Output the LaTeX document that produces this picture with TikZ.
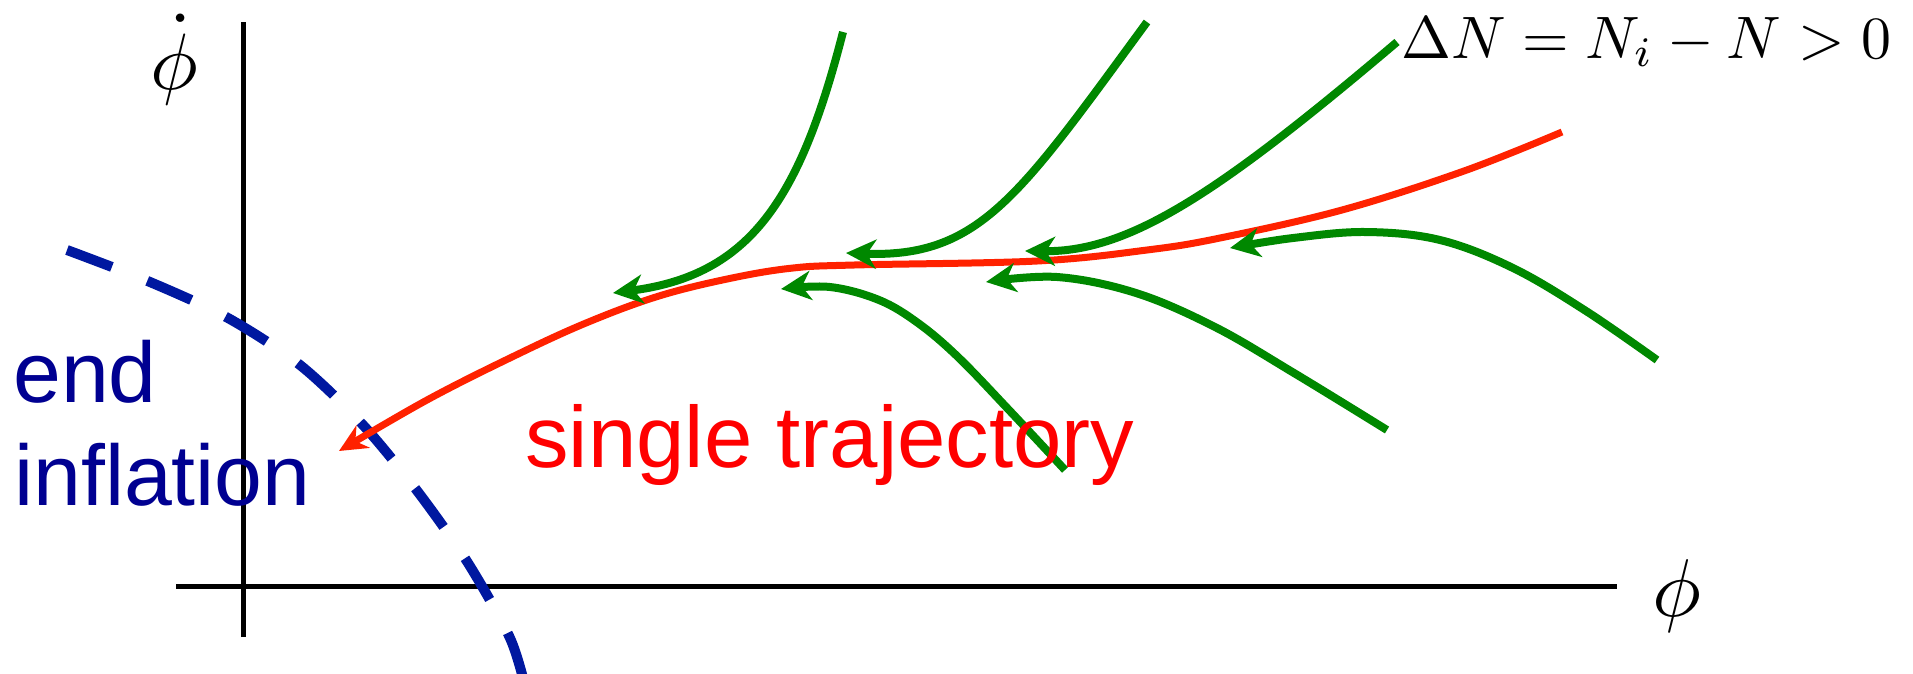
\documentclass[tikz,border=0pt]{standalone}
\usepackage{graphicx}
\usepackage{fontspec}
\newfontfamily\arialfont{Liberation Sans}
\usetikzlibrary{arrows.meta}
\definecolor{trajgreen}{RGB}{0,136,0}
\definecolor{trajred}{RGB}{255,34,0}
\definecolor{dashblue}{RGB}{0,24,160}
\definecolor{textnavy}{RGB}{0,0,145}
\definecolor{textred}{RGB}{255,0,0}
\begin{document}
\begin{tikzpicture}[x=1pt,y=-1pt,
  axisline/.style={line width=5pt, black},
  greentraj/.style={line width=8pt, trajgreen, line join=round,
     -{Stealth[length=30pt,width=29pt,inset=9pt]}},
  redtraj/.style={line width=7pt, trajred, line join=round,
     -{Stealth[length=28pt,width=26pt,inset=9pt]}},
  endline/.style={line width=10pt, dashblue, dash pattern=on 48pt off 38pt},
  bigsans/.style={inner sep=0pt, anchor=base west, font=\arialfont\fontsize{86}{103}\selectfont},
  mathlabel/.style={inner sep=0pt, anchor=base}]
\useasboundingbox (0,0) rectangle (1913,673);

% axes
\coordinate (ytop) at (243,22);
\coordinate (ybot) at (243,637);
\coordinate (xleft) at (176,586);
\coordinate (xright) at (1617,586);
\draw[axisline] (ybot) -- (ytop);
\draw[axisline] (xleft) -- (xright);

% axis labels
\node[mathlabel] (phidot) at (174,89) {\scalebox{8}{$\dot\phi$}};
\node[mathlabel] (phi) at (1677,616) {\scalebox{8.2}{$\phi$}};

% end of inflation curve
\draw[endline] plot[smooth] coordinates {(67,250) (150,282) (228,318) (300,365) (363,425) (418,492) (468,563) (510,638) (526,690)};

% single trajectory (red)
\draw[redtraj] plot[smooth, tension=0.6] coordinates {(1562,132) (1464,171) (1342,210) (1220,238) (1147,250) (1037,261) (854,265) (793,268) (732,278) (659,296) (586,323) (512,357) (427,400) (339,451)};

% green trajectories
\coordinate (g1s) at (843,32);  \coordinate (g1e) at (613,293);
\coordinate (g2s) at (1147,22); \coordinate (g2e) at (846,253);
\coordinate (g3s) at (1397,42); \coordinate (g3e) at (1025,251);
\draw[greentraj] (g1s) .. controls (800,200) and (750,275) .. (g1e);
\draw[greentraj] (g2s) .. controls (1020,195) and (980,258) .. (g2e);
\draw[greentraj] (g3s) .. controls (1220,192) and (1130,252) .. (g3e);
\draw[greentraj] plot[smooth, tension=0.6] coordinates {(1657,360) (1586,311) (1513,268) (1440,240) (1366,232) (1293,238) (1230,248)};
\draw[greentraj] plot[smooth, tension=0.6] coordinates {(1387,430) (1294,373) (1215,327) (1136,293) (1057,277) (986,282)};
\draw[greentraj] plot[smooth, tension=0.6] coordinates {(1065,470) (1009,410) (958,357) (918,323) (879,300) (830,287) (781,289)};

% texts
\node[bigsans, text=textnavy] (endtxt) at (13,402) {end};
\node[bigsans, text=textnavy] (inflationtxt) at (14,505) {inflation};
\node[bigsans, text=textred, font=\arialfont\fontsize{87}{104}\selectfont] (single) at (525,467) {single trajectory};
\node[inner sep=0pt, anchor=base west] (dn) at (1401,58) {\resizebox{490pt}{!}{$\Delta N = N_i - N > 0$}};
\end{tikzpicture}
\end{document}
